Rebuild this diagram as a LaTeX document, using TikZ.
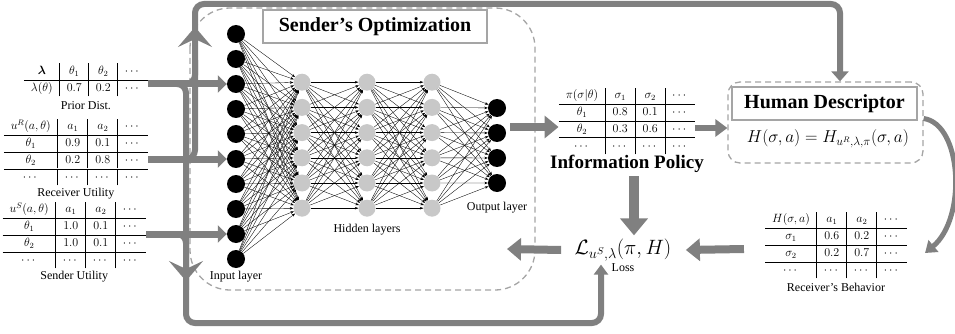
\documentclass[tikz,border=0pt]{standalone}
\usepackage{fontspec}
\setmainfont{Liberation Serif}
\usepackage{amsmath}
\usetikzlibrary{arrows.meta,positioning}
\definecolor{flow}{RGB}{128,128,128}
\definecolor{dashgray}{RGB}{165,165,165}
\definecolor{hidgray}{RGB}{200,200,200}
\setlength{\tabcolsep}{7pt}
\setlength{\arrayrulewidth}{0.8pt}
\renewcommand{\arraystretch}{1.15}
\newcommand{\capfont}{\fontsize{12}{14}\selectfont}
\newcommand{\headfont}{\fontsize{20}{24}\selectfont\bfseries}

\begin{document}
\begin{tikzpicture}[x=1pt, y=-1pt,
    every node/.style={font=\capfont},
    in node/.style={circle, fill=black, minimum size=18pt, inner sep=0pt},
    hid node/.style={circle, fill=hidgray, minimum size=17pt, inner sep=0pt},
    table node/.style={inner sep=0pt},
    title box/.style={draw=dashgray, line width=1.5pt, fill=white, font=\headfont, minimum height=33pt, inner sep=0pt},
    region/.style={draw=dashgray, line width=1.3pt, dash pattern=on 6pt off 4pt},
    synapse/.style={draw=black, line width=0.35pt, -{Stealth[length=3.5pt,width=2.6pt]}},
    trunk/.style={draw=flow, line width=6pt},
    feed/.style={draw=flow, line width=7pt, -{Triangle[length=9pt,width=17pt]}},
    big arrow/.style={draw=flow, line width=8pt, -{Triangle[length=14pt,width=22pt]}},
    barb/.style={draw=flow, line width=6pt, -{Stealth[length=20pt,width=34pt,inset=8pt]}}]
  \useasboundingbox (0,0) rectangle (955,334);

  % dashed regions
  \draw[region, rounded corners=40pt] (190,8) rectangle (535,290);
  \node[region, rounded corners=12pt, minimum width=195pt, minimum height=81pt] (human) at (825.5,122.5) {};

  % input tables
  \node[table node, anchor=east] (prior) at (148,80) {\begin{tabular}{c|c|c|c}
      $\boldsymbol{\lambda}$ & $\theta_1$ & $\theta_2$ & $\cdots$\\ \hline
      $\lambda(\theta)$ & $0.7$ & $0.2$ & $\cdots$
    \end{tabular}};
  \node[below=1pt of prior] {Prior Dist.};
  \node[table node, anchor=east] (recv) at (148,152) {\begin{tabular}{c|c|c|c}
      $u^R(a,\theta)$ & $a_1$ & $a_2$ & $\cdots$\\ \hline
      $\theta_1$ & $0.9$ & $0.1$ & $\cdots$\\ \hline
      $\theta_2$ & $0.2$ & $0.8$ & $\cdots$\\ \hline
      $\cdots$ & $\cdots$ & $\cdots$ & $\cdots$
    \end{tabular}};
  \node[below=-1pt of recv] {Receiver Utility};
  \node[table node, anchor=east] (send) at (146,235) {\begin{tabular}{c|c|c|c}
      $u^S(a,\theta)$ & $a_1$ & $a_2$ & $\cdots$\\ \hline
      $\theta_1$ & $1.0$ & $0.1$ & $\cdots$\\ \hline
      $\theta_2$ & $1.0$ & $0.1$ & $\cdots$\\ \hline
      $\cdots$ & $\cdots$ & $\cdots$ & $\cdots$
    \end{tabular}};
  \node[below=-1pt of send] {Sender Utility};

  % network
  \foreach \i in {1,...,10}
    \node[in node] (in\i) at (236,9+25*\i) {};
  \foreach \l/\x in {a/302,b/367,c/432}
    \foreach \i in {1,...,6}
      \node[hid node] (h\l\i) at (\x,57+25.2*\i) {};
  \foreach \i in {1,...,4}
    \node[in node] (out\i) at (497,83+25*\i) {};

  \foreach \i in {1,...,10}
    \foreach \j in {1,...,6}
      \draw[synapse] (in\i) -- (ha\j);
  \foreach \i in {1,...,6}
    \foreach \j in {1,...,6} {
      \draw[synapse] (ha\i) -- (hb\j);
      \draw[synapse] (hb\i) -- (hc\j);
    }
  \foreach \i in {1,...,6}
    \foreach \j in {1,...,4}
      \draw[synapse] (hc\i) -- (out\j);

  \node[below=-1pt of in10] {Input layer};
  \node[below=4pt of hb6] {Hidden layers};
  \node[below=6pt of out4] {Output layer};
  \node[title box, minimum width=224pt] (optitle) at (375,26.5) {Sender's Optimization};

  % right side
  \node[table node] (policy) at (627,121) {\begin{tabular}{c|c|c|c}
      $\pi(\sigma|\theta)$ & $\sigma_1$ & $\sigma_2$ & $\cdots$\\ \hline
      $\theta_1$ & $0.8$ & $0.1$ & $\cdots$\\ \hline
      $\theta_2$ & $0.3$ & $0.6$ & $\cdots$\\ \hline
      $\cdots$ & $\cdots$ & $\cdots$ & $\cdots$
    \end{tabular}};
  \node[font=\fontsize{19}{23}\selectfont\bfseries] (infolabel) at (627,164) {Information Policy};

  \node[title box, minimum width=185pt] (hdtitle) at (824.5,103.5) {Human Descriptor};
  \node[font=\fontsize{17}{20}\selectfont] (hdform) at (828,139) {$H(\sigma,a)=H_{u^R,\lambda,\pi}(\sigma,a)$};

  \node[table node] (behav) at (836,245) {\begin{tabular}{c|c|c|c}
      $H(\sigma,a)$ & $a_1$ & $a_2$ & $\cdots$\\ \hline
      $\sigma_1$ & $0.6$ & $0.2$ & $\cdots$\\ \hline
      $\sigma_2$ & $0.2$ & $0.7$ & $\cdots$\\ \hline
      $\cdots$ & $\cdots$ & $\cdots$ & $\cdots$
    \end{tabular}};
  \node[below=1pt of behav] {Receiver's Behavior};

  \node[font=\fontsize{20}{24}\selectfont] (loss) at (623,250) {$\mathcal{L}_{u^S,\lambda}(\pi,H)$};
  \node[below=-5pt of loss] {Loss};
  \coordinate (back) at (507,249);

  % left flows
  \draw[trunk, rounded corners=9pt] (prior.east |- in3) -| (195,60);
  \draw[trunk, rounded corners=9pt, -{Triangle[length=10pt,width=17pt]}] (recv.east |- in6) -| (195,4) -| ([xshift=14.5pt]human.north);
  \draw[trunk, rounded corners=9pt, -{Triangle[length=10pt,width=14pt]}] (prior.east |- in3) -| (186,323) -| ([xshift=-22pt]loss.south);
  \draw[trunk, rounded corners=9pt] (send.east |- in9) -| (186,290);
  \draw[barb] (195,62) -- (195,27);
  \draw[barb] (186,240) -- (186,281);
  \draw[feed] (prior.east |- in3) -- (in3);
  \draw[feed] (recv.east |- in6) -- (in6);
  \draw[feed] (send.east |- in9) -- (in9);

  % right flows
  \draw[big arrow] ([xshift=4pt,yshift=6pt]out2.east) -- ([yshift=-6pt]policy.west);
  \draw[draw=flow, line width=6pt, -{Triangle[length=12pt,width=17pt]}] ([yshift=-7pt]policy.east) -- ([yshift=-5.5pt]human.west);
  \draw[big arrow, line width=10pt, -{Triangle[length=17pt,width=27pt]}] ([xshift=7pt]infolabel.south) -- ([xshift=11pt]loss.north);
  \draw[big arrow] ([xshift=-21pt,yshift=-4pt]behav.west) -- ([xshift=11pt]loss.east);
  \draw[big arrow] ([xshift=-10pt]loss.west) -- (back);
  \draw[draw=flow, line width=5pt, -{Triangle[length=11pt,width=15pt]}] ([yshift=4pt]human.east) .. controls (962,124) and (967,218) .. ([xshift=18pt,yshift=-8pt]behav.east);
\end{tikzpicture}
\end{document}
